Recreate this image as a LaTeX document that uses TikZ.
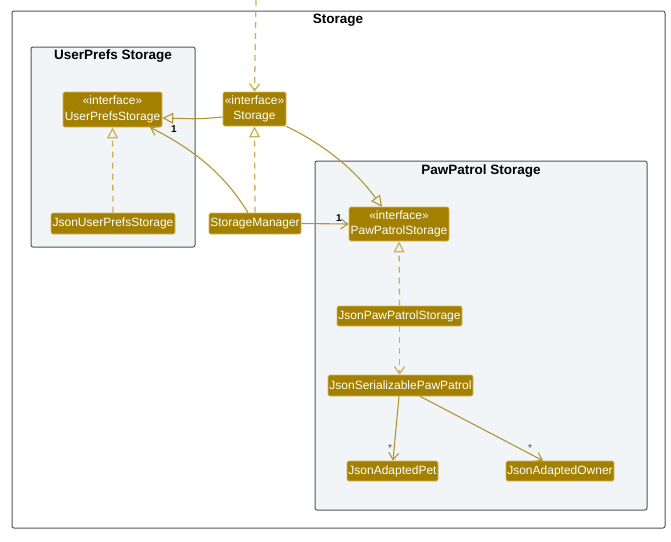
\documentclass[tikz,border=0pt]{standalone}
\usepackage{fontspec}
\setmainfont{Liberation Sans}
\usetikzlibrary{arrows.meta}
\definecolor{cls}{RGB}{163,128,0}
\definecolor{clsborder}{RGB}{214,184,90}
\definecolor{edge}{RGB}{180,148,50}
\definecolor{dedge}{RGB}{206,176,86}
\definecolor{pkgfill}{RGB}{241,245,247}
\definecolor{pkgline}{RGB}{85,85,85}
\tikzset{
  cbox/.style={rectangle, rounded corners=1.5pt, fill=cls, draw=clsborder, line width=0.6pt,
    text=white, font=\fontsize{12}{15.5}\selectfont, align=center, inner sep=0pt},
  pkg/.style={draw=pkgline, line width=1pt, fill=pkgfill, rounded corners=2pt},
  outer/.style={draw=pkgline, line width=1pt, fill=white, rounded corners=2pt},
  ptitle/.style={font=\bfseries\fontsize{13.5}{15}\selectfont, inner sep=0pt},
  assoc/.style={draw=edge, line width=1.1pt, -{Straight Barb[length=7pt,width=10pt]}},
  dep/.style={draw=dedge, line width=1.3pt, dash pattern=on 6pt off 5pt, -{Straight Barb[length=7pt,width=10pt]}},
  gen/.style={draw=edge, line width=1.1pt, -{Triangle[open,length=11pt,width=11pt]}},
  real/.style={draw=dedge, line width=1.3pt, dash pattern=on 6pt off 5pt, -{Triangle[open,length=11pt,width=11pt]}},
  mult/.style={font=\bfseries\fontsize{10}{12}\selectfont, inner sep=0pt},
}
\begin{document}
\begin{tikzpicture}[x=1pt,y=-1pt]
\useasboundingbox (0,0) rectangle (671,541);
% packages
\draw[outer] (12,11) rectangle (665,528);
\node[ptitle] (tStorage) at (338,20) {Storage};
\draw[pkg] (31,47) rectangle (195,247);
\node[ptitle] (tUser) at (113,56) {UserPrefs Storage};
\draw[pkg] (315,161) rectangle (647,510);
\node[ptitle] (tPaw) at (481,171) {PawPatrol Storage};
% classes
\node[cbox, minimum width=99pt, minimum height=35pt] (ups) at (112.5,109.5) {«interface»\\UserPrefsStorage};
\node[cbox, minimum width=63pt, minimum height=34pt] (st) at (254.5,109) {«interface»\\Storage};
\node[cbox, minimum width=124pt, minimum height=21pt] (jups) at (113,223.5) {JsonUserPrefsStorage};
\node[cbox, minimum width=92pt, minimum height=21pt] (sm) at (255,223.5) {StorageManager};
\node[cbox, minimum width=100pt, minimum height=34pt] (pps) at (399,224) {«interface»\\PawPatrolStorage};
\node[cbox, minimum width=125pt, minimum height=20pt] (jpps) at (399.5,316) {JsonPawPatrolStorage};
\node[cbox, minimum width=145pt, minimum height=21pt] (jspp) at (400.5,385.5) {JsonSerializablePawPatrol};
\node[cbox, minimum width=91pt, minimum height=20pt] (jap) at (392.5,471) {JsonAdaptedPet};
\node[cbox, minimum width=108pt, minimum height=20pt] (jao) at (560,471) {JsonAdaptedOwner};
% connectors
\coordinate (topin) at (256,0);
\draw[dep] (topin) -- (st.north);
\draw[gen] (st.west |- 0,117) .. controls (200,119) .. (ups.east |- 0,118);
\draw[assoc] (sm.north -| 248,0) .. controls (225,175) and (195,150) .. (ups.south -| 150,0);
\node[mult] (m1) at (174,129) {1};
\draw[real] (sm.north) -- (st.south);
\draw[gen] (st.south east) .. controls (325,145) and (355,170) .. (pps.north -| 382,0);
\draw[assoc] (sm.east) -- (pps.west);
\node[mult] (m2) at (339,218) {1};
\draw[real] (jups.north) -- (ups.south);
\draw[real] (jpps.north) -- (pps.south);
\draw[dep] (jpps.south) -- (jspp.north -| jpps.south);
\draw[assoc] (jspp.south -| 399,0) -- (jap.north -| 393,0);
\draw[assoc] (jspp.south -| 420,0) -- (jao.north -| 543,0);
\node[font=\fontsize{10}{12}\selectfont, text=black!75, inner sep=0pt] (s1) at (390,448) {*};
\node[font=\fontsize{10}{12}\selectfont, text=black!75, inner sep=0pt] (s2) at (530,448) {*};
\end{tikzpicture}
\end{document}
